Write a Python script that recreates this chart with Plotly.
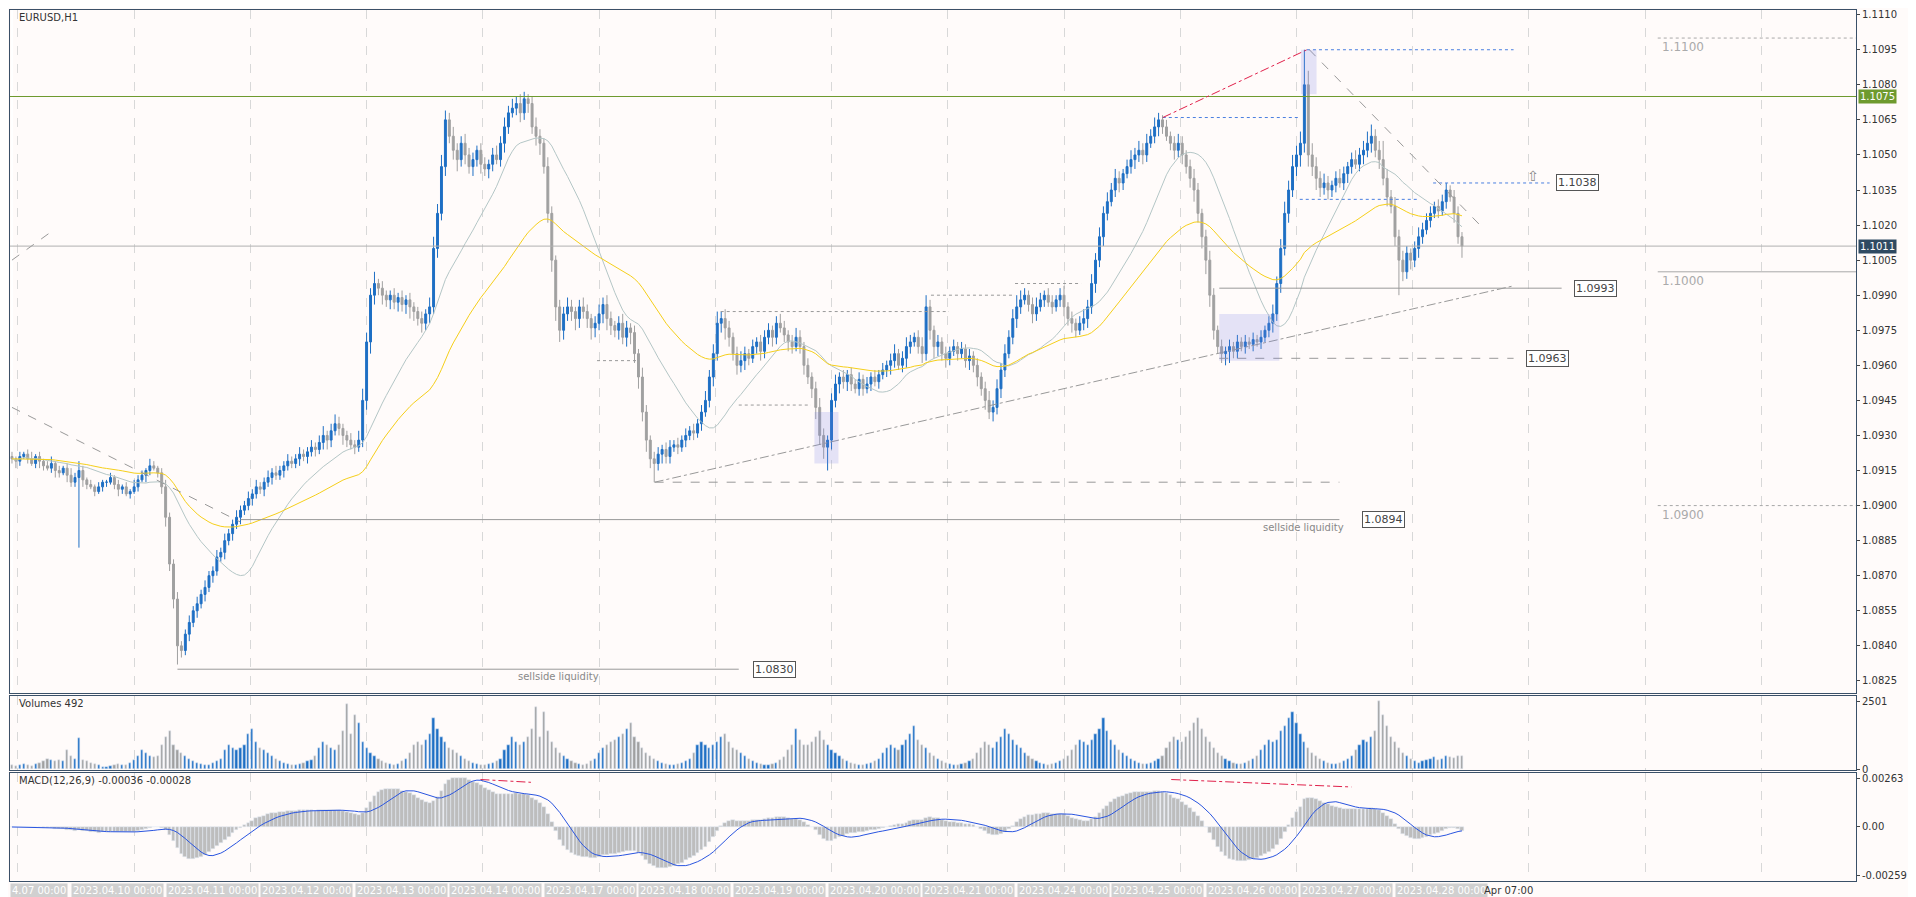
import pandas as pd
import numpy as np
import plotly.graph_objects as go
from plotly.subplots import make_subplots

# hourly closes, pips above 1.0800 (04.07 .. 04.28 07:00)
close_pips = [
    120,119,121,122,120,118,121,119,117,116,118,115,114,116,113,110,112,115,111,109,108,106,108,110,
    110,112,109,107,108,105,106,108,111,113,115,117,116,114,108,95,75,60,40,38,45,50,55,58,
    62,65,70,72,78,80,85,88,92,95,98,100,103,105,108,107,110,112,114,113,115,117,119,118,
    120,122,121,123,125,124,127,130,128,132,135,133,130,128,126,125,128,145,170,190,195,193,190,188,
    190,187,189,186,188,185,183,180,178,182,185,210,225,245,265,258,252,248,255,250,245,248,252,246,
    244,246,250,248,255,262,268,270,272,268,274,272,262,258,255,245,225,205,185,175,182,185,183,180,
    185,183,180,176,178,182,186,180,177,175,178,172,176,174,165,155,140,128,120,118,122,124,121,125,
    126,125,128,130,132,131,135,140,145,155,165,178,180,176,172,165,160,162,165,163,168,170,166,172,
    175,172,178,176,173,170,168,172,168,160,155,150,142,130,125,128,145,152,155,153,156,152,150,154,
    150,152,155,153,156,158,160,162,165,160,163,168,170,172,168,165,185,175,168,170,165,163,166,168,
    165,167,162,164,160,155,150,145,140,142,150,158,165,172,180,185,188,190,186,182,185,188,190,187,
    185,188,190,185,180,178,175,178,180,185,195,205,215,225,230,235,240,238,242,245,248,250,252,250,
    255,258,262,265,262,258,255,252,255,250,245,240,235,225,215,205,190,175,168,165,166,168,166,170,
    168,170,169,171,170,172,175,178,182,195,210,225,235,245,250,255,280,250,245,240,236,238,235,237,
    240,238,242,245,248,246,250,252,255,258,252,248,240,232,228,215,205,200,208,205,210,215,218,222,
    225,228,226,230,235,232,225,215,211,
]
wick_up = [
    2,1,2,1,2,3,1,2,1,2,3,1,2,1,2,3,2,4,2,1,2,1,2,1,
    1,2,1,2,1,2,1,3,2,2,1,3,2,1,2,3,2,2,3,2,2,3,2,3,
    2,3,2,2,3,2,3,2,2,3,2,2,3,2,3,2,2,3,2,3,2,2,3,2,
    2,3,2,2,3,2,3,4,2,3,4,3,2,2,3,2,4,5,4,3,5,2,3,2,
    2,3,2,3,2,3,2,2,3,2,4,5,4,5,4,3,4,3,3,4,3,3,2,3,
    3,2,3,4,3,4,3,4,3,4,3,2,3,4,3,2,4,3,2,3,3,4,3,2,
    3,4,3,2,3,4,3,4,3,2,3,4,3,2,3,2,4,3,2,3,3,2,3,3,
    2,3,2,3,2,3,2,3,4,3,4,5,3,4,3,2,3,4,3,2,3,2,3,3,
    3,2,3,4,3,2,3,4,3,2,3,2,3,4,3,2,3,4,2,3,2,3,2,3,
    2,3,2,3,2,3,2,3,4,2,3,4,3,2,3,4,5,3,2,3,2,3,2,3,
    2,3,2,3,2,3,2,3,4,3,4,3,4,3,4,5,4,3,2,3,4,3,2,3,
    3,2,3,4,2,3,2,3,4,3,4,3,4,3,4,3,4,3,2,3,4,3,4,3,
    4,3,4,3,2,3,2,3,4,3,2,3,4,3,2,3,4,3,2,3,2,3,2,3,
    2,3,2,3,2,3,2,3,4,3,4,5,4,5,4,5,15,6,5,4,3,4,3,2,
    3,4,3,2,3,4,3,4,5,5,3,4,8,4,3,4,3,4,3,2,3,4,3,3,
    3,2,3,3,3,2,3,3,2,
]
wick_dn = [
    2,3,2,1,2,1,2,3,2,1,2,3,2,1,3,2,2,30,3,2,1,2,1,2,
    2,1,2,3,2,1,2,1,2,1,3,2,1,2,3,4,3,4,8,3,2,3,2,3,
    2,3,2,3,2,2,3,2,3,2,3,2,2,3,2,2,3,2,3,2,2,3,2,2,
    2,3,2,3,2,3,2,3,4,3,2,3,4,3,2,3,2,3,4,5,4,3,4,3,
    4,3,4,3,4,5,4,3,4,3,4,3,4,3,4,3,4,5,3,4,3,4,3,4,
    3,4,3,2,3,4,3,2,3,4,3,4,3,4,5,3,4,5,6,5,4,3,4,5,
    4,3,4,5,4,3,4,5,4,3,4,3,4,5,4,5,4,5,4,8,3,4,3,3,
    2,3,2,3,2,3,2,3,2,3,4,3,4,5,4,3,4,3,4,3,2,3,4,3,
    3,4,3,2,3,4,3,2,3,4,3,4,5,4,5,10,4,3,4,3,4,3,2,3,
    3,2,3,2,3,2,3,4,3,2,3,4,3,2,3,4,3,4,5,4,3,4,3,2,
    3,2,3,4,3,4,3,4,3,4,3,4,3,2,3,4,3,2,3,4,3,2,3,2,
    3,2,3,4,3,4,3,2,3,4,3,4,3,4,3,2,3,4,3,2,3,4,3,4,
    3,2,3,4,3,2,3,4,3,4,3,4,5,4,5,6,5,4,3,4,5,5,3,3,
    2,3,2,3,2,3,2,3,4,3,4,3,4,3,4,5,4,5,4,5,4,3,4,3,
    3,2,3,4,3,2,3,4,3,4,3,4,3,4,3,4,15,4,3,4,3,4,3,2,
    3,2,3,2,3,2,4,3,5,
]
volumes = [
    150,120,180,200,150,130,200,250,300,400,350,300,350,300,700,500,400,1150,350,300,250,200,150,100,
    80,120,150,200,180,150,250,350,500,700,600,500,450,500,900,1200,1400,900,700,600,500,400,300,250,
    200,150,180,250,300,400,700,900,800,700,800,900,1300,1500,1000,800,700,600,500,400,300,250,200,180,
    150,200,250,300,350,500,800,1000,900,800,700,900,1400,2400,1300,2000,1700,1000,800,600,500,400,300,250,
    200,180,200,300,400,600,900,1000,900,1100,1300,1900,1500,1200,1000,800,700,600,500,400,300,250,200,180,
    150,200,250,300,400,700,900,1200,1000,900,1000,1200,1500,2300,1200,2100,1400,1000,800,600,500,400,300,250,
    200,150,200,300,400,600,800,900,1000,1100,1200,1300,1500,1700,1200,1000,800,600,500,400,300,250,200,150,
    150,200,250,300,400,600,900,1000,900,800,900,1000,1200,1300,1000,800,700,600,500,400,300,250,200,150,
    150,200,250,350,450,700,900,1500,1100,900,900,1000,1200,1400,1100,900,700,600,500,400,300,250,200,150,
    150,200,250,300,400,600,800,900,800,700,900,1100,1300,1600,1100,900,800,600,500,400,300,250,200,150,
    150,200,250,300,400,600,800,1000,900,800,1000,1200,1500,1300,1100,900,800,600,500,400,300,250,200,150,
    200,250,300,400,500,700,900,1100,1000,900,1100,1300,1500,1900,1400,1100,900,700,600,500,400,300,250,200,
    200,250,300,400,500,800,1000,1200,1100,1000,1200,1400,1700,1900,1500,1200,1000,800,600,500,400,300,250,200,
    200,250,300,400,500,700,900,1100,1000,1100,1400,1600,1900,2100,1700,1300,1000,800,600,500,400,300,250,200,
    200,250,300,400,500,700,900,1100,1000,1200,1400,2500,2000,1600,1200,1000,800,600,500,400,300,250,300,350,
    400,450,350,400,500,450,420,480,492,
]
day_labels = ["4.07 00:00", "2023.04.10 00:00", "2023.04.11 00:00", "2023.04.12 00:00",
              "2023.04.13 00:00", "2023.04.14 00:00", "2023.04.17 00:00", "2023.04.18 00:00",
              "2023.04.19 00:00", "2023.04.20 00:00", "2023.04.21 00:00", "2023.04.24 00:00",
              "2023.04.25 00:00", "2023.04.26 00:00", "2023.04.27 00:00", "2023.04.28 00:00"]
price_ticks = [1.0825, 1.0840, 1.0855, 1.0870, 1.0885, 1.0900, 1.0915, 1.0930, 1.0945, 1.0960,
               1.0975, 1.0990, 1.1005, 1.1020, 1.1035, 1.1050, 1.1065, 1.1080, 1.1095, 1.1110]

close = np.array(close_pips) / 10000 + 1.08
opn = np.concatenate([[1.0921], close[:-1]])
high = np.maximum(opn, close) + np.array(wick_up) / 10000
low = np.minimum(opn, close) - np.array(wick_dn) / 10000
n = len(close)
x = np.arange(n)
s = pd.Series(close)
ma_fast = s.rolling(20, min_periods=1).mean()
ma_slow = s.ewm(span=50, adjust=False).mean()
macd = s.ewm(span=12, adjust=False).mean() - s.ewm(span=26, adjust=False).mean()
signal = macd.rolling(9, min_periods=1).mean()

BLUE = "#1E6FC4"
GREY = "#A0A0A0"
up = close >= opn

fig = make_subplots(rows=3, cols=1, shared_xaxes=True, vertical_spacing=0.004,
                    row_heights=[0.79, 0.085, 0.125])

fig.add_trace(go.Candlestick(x=x, open=opn, high=high, low=low, close=close,
                             increasing=dict(line=dict(color=BLUE, width=1), fillcolor=BLUE),
                             decreasing=dict(line=dict(color=GREY, width=1), fillcolor=GREY),
                             whiskerwidth=0, showlegend=False), row=1, col=1)
fig.add_trace(go.Scatter(x=x, y=ma_fast, mode="lines", line=dict(color="#B4C6C6", width=1),
                         showlegend=False), row=1, col=1)
fig.add_trace(go.Scatter(x=x, y=ma_slow, mode="lines", line=dict(color="#F5CF1A", width=1),
                         showlegend=False), row=1, col=1)
fig.add_trace(go.Bar(x=x, y=volumes, marker_color=np.where(up, BLUE, GREY), width=0.55,
                     showlegend=False), row=2, col=1)
fig.add_trace(go.Bar(x=x, y=macd, marker_color="#BDBDBD", width=0.95, showlegend=False), row=3, col=1)
fig.add_trace(go.Scatter(x=x, y=signal, mode="lines", line=dict(color="#2A55E0", width=1),
                         showlegend=False), row=3, col=1)

b = 3.28  # reference px per bar, used to place drawings by bar index
def bx(px):
    return px / b

def seg(x0, y0, x1, y1, color, dash="dash", width=1, row=1):
    fig.add_shape(type="line", x0=x0, y0=y0, x1=x1, y1=y1, line=dict(color=color, dash=dash, width=width),
                  row=row, col=1)

def box(xv, yv, text):
    fig.add_annotation(x=xv, y=yv, text=text, showarrow=False, xanchor="left", bgcolor="white",
                       bordercolor="#555", borderwidth=1, borderpad=1, font=dict(size=11, color="#444"),
                       row=1, col=1)

# horizontal levels
seg(-0.5, 1.1075, 468, 1.1075, "#6E9A2E", "solid", 1.2)
seg(-0.5, 1.1011, 468, 1.1011, "#B0B0B0", "solid", 1)
seg(bx(1370), 1.1100, 468, 1.1100, "#A8A8A8", "dot")
seg(bx(1370), 1.1000, 468, 1.1000, "#A8A8A8", "solid")
seg(bx(1370), 1.0900, 468, 1.0900, "#A8A8A8", "dot")
for yv, t in [(1.1100, "1.1100"), (1.1000, "1.1000"), (1.0900, "1.0900")]:
    fig.add_annotation(x=bx(1372), y=yv, text=t, showarrow=False, xanchor="left", yanchor="top",
                       font=dict(size=12, color="#AAAAAA"), row=1, col=1)
# liquidity levels
seg(42, 1.0830, bx(605), 1.0830, "#999", "solid")
box(bx(617), 1.0830, "1.0830")
fig.add_annotation(x=bx(455), y=1.0830, text="sellside liquidity", showarrow=False, yanchor="top",
                   font=dict(size=10, color="#888"), row=1, col=1)
seg(58, 1.0894, bx(1105), 1.0894, "#999", "solid")
box(bx(1124), 1.0894, "1.0894")
fig.add_annotation(x=bx(1075), y=1.0894, text="sellside liquidity", showarrow=False, yanchor="top",
                   font=dict(size=10, color="#888"), row=1, col=1)
seg(bx(1005), 1.0993, bx(1290), 1.0993, "#999", "solid")
box(bx(1300), 1.0993, "1.0993")
seg(bx(1005), 1.0963, bx(1250), 1.0963, "#999", "dash")
box(bx(1260), 1.0963, "1.0963")
seg(bx(1183), 1.1038, bx(1280), 1.1038, "#4A7FE0", "dot")
box(bx(1285), 1.1038, "1.1038")
fig.add_annotation(x=bx(1266), y=1.1041, text="⇧", showarrow=False, font=dict(size=14, color="#888"),
                   row=1, col=1)
seg(bx(1078), 1.1095, bx(1250), 1.1095, "#4A7FE0", "dot")
seg(bx(958), 1.1066, bx(1072), 1.1066, "#4A7FE0", "dot")
seg(bx(1072), 1.1031, bx(1170), 1.1031, "#4A7FE0", "dot")
seg(bx(958), 1.1066, bx(1078), 1.1095, "#E0204A", "dashdot")
# trendlines and ranges
seg(bx(535), 1.0910, bx(1250), 1.0994, "#999", "dashdot")
seg(bx(0), 1.0942, bx(190), 1.0893, "#999", "dash")
seg(bx(0), 1.1005, bx(35), 1.1018, "#999", "dash")
seg(bx(1080), 1.1095, bx(1222), 1.1020, "#999", "dash")
seg(bx(535), 1.0910, bx(1105), 1.0910, "#999", "dash")
seg(bx(487), 1.0962, bx(520), 1.0962, "#999", "dot")
seg(bx(590), 1.0983, bx(780), 1.0983, "#999", "dot")
seg(bx(605), 1.0943, bx(665), 1.0943, "#999", "dot")
seg(bx(765), 1.0990, bx(835), 1.0990, "#999", "dot")
seg(bx(835), 1.0995, bx(890), 1.0995, "#999", "dot")
for x0, x1, y0, y1 in [(668, 688, 1.0918, 1.0940), (1005, 1055, 1.0962, 1.0982), (1073, 1086, 1.1076, 1.1095)]:
    fig.add_shape(type="rect", x0=bx(x0), x1=bx(x1), y0=y0, y1=y1, fillcolor="rgba(120,130,230,0.2)",
                  line_width=0, row=1, col=1)
# MACD divergence lines
seg(bx(390), 0.00255, bx(432), 0.00240, "#E0204A", "dashdot", row=3)
seg(bx(965), 0.00255, bx(1115), 0.00215, "#E0204A", "dashdot", row=3)

# right-side price labels
for yv, t, bg in [(1.1075, "1.1075", "#6E9A2E"), (1.1011, "1.1011", "#2F4A62")]:
    fig.add_annotation(x=1.001, xref="paper", y=yv, yref="y", text=t, showarrow=False, xanchor="left",
                       bgcolor=bg, font=dict(size=10, color="white"), borderpad=1)

# panel titles
fig.add_annotation(x=0.004, y=1, xref="paper", yref="y domain", text="EURUSD,H1", showarrow=False,
                   xanchor="left", yanchor="top", font=dict(size=10, color="#333"))
fig.add_annotation(x=0.004, y=1, xref="paper", yref="y2 domain", text="Volumes 492", showarrow=False,
                   xanchor="left", yanchor="top", font=dict(size=10, color="#333"))
fig.add_annotation(x=0.004, y=1, xref="paper", yref="y3 domain", text="MACD(12,26,9) -0.00036 -0.00028",
                   showarrow=False, xanchor="left", yanchor="top", font=dict(size=10, color="#333"))

# time labels
for i, t in enumerate(day_labels):
    xi = 24 * i - 9 if i else -0.5
    fig.add_annotation(x=xi, y=0, xref="x3", yref="paper", text=t, showarrow=False, xanchor="left",
                       yanchor="top", yshift=-2, bgcolor="#D0D0D0", font=dict(size=10, color="white"))
fig.add_annotation(x=24 * 15 + 13, y=0, xref="x3", yref="paper", text="Apr 07:00", showarrow=False,
                   xanchor="left", yanchor="top", yshift=-2, font=dict(size=10, color="#333"))

ax = dict(showline=True, linecolor="#3A5068", mirror=True, ticks="outside", ticklen=3,
          tickfont=dict(size=10, color="#333"), zeroline=False, showgrid=False)
for r in (1, 2, 3):
    fig.update_xaxes(range=[-0.5, 468], tickmode="linear", tick0=1.5, dtick=29.5, showticklabels=False,
                     showgrid=True, gridcolor="#D8D8D8", griddash="dash", rangeslider_visible=False,
                     showline=True, linecolor="#3A5068", mirror=True, row=r, col=1)
    fig.update_yaxes(side="right", **ax, row=r, col=1)
fig.update_yaxes(range=[1.0820, 1.1112], tickvals=price_ticks, tickformat=".4f", row=1, col=1)
fig.update_yaxes(range=[0, 2700], tickvals=[0, 2501], ticktext=["0", "2501"], row=2, col=1)
fig.update_yaxes(range=[-0.0029, 0.0029], tickvals=[-0.00259, 0, 0.00263],
                 ticktext=["-0.00259", "0.00", "0.00263"], row=3, col=1)

fig.update_layout(width=1916, height=897, margin=dict(l=2, r=68, t=2, b=24),
                  paper_bgcolor="#FFFBFA", plot_bgcolor="#FFFBFA", bargap=0,
                  font=dict(family="Tahoma, DejaVu Sans", size=10), showlegend=False)
fig.write_html("out.html")
